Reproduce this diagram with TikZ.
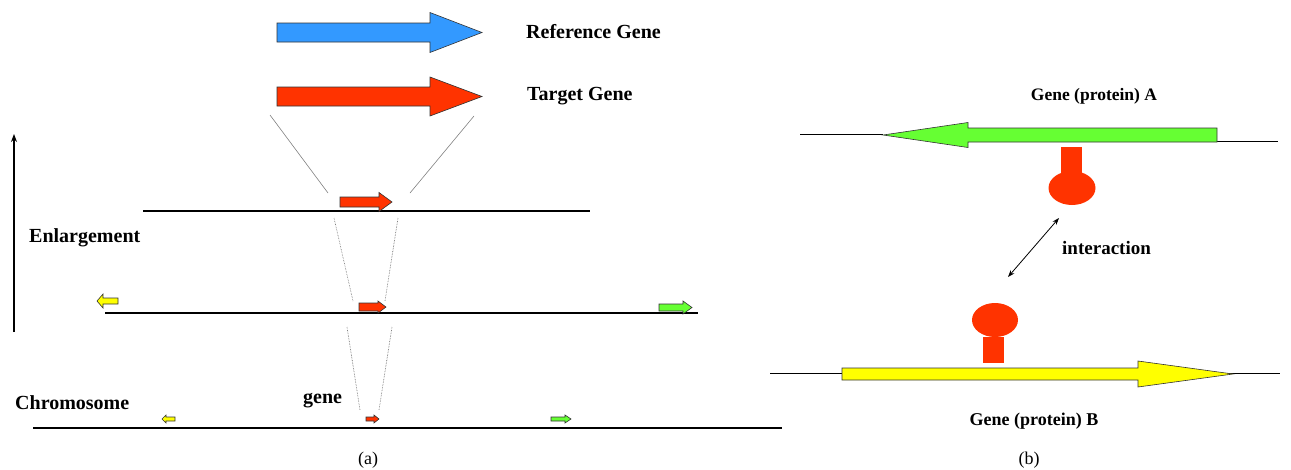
\documentclass[tikz,border=0pt]{standalone}
\usepackage{fontspec}
\setmainfont{Liberation Serif}
\usetikzlibrary{arrows.meta}
\definecolor{refblue}{HTML}{3399FF}
\definecolor{tgtred}{HTML}{FF3300}
\definecolor{gngreen}{HTML}{66FF33}
\definecolor{gnyellow}{HTML}{FFFF00}
% block arrow: colour, start x, head x, tip x, mid y, half body, half head
\newcommand{\genearrow}[7]{%
	\draw [black!80, line width=0.6, fill=#1] (#2,#5-#6) -- (#3,#5-#6) -- (#3,#5-#7) -- (#4,#5) -- (#3,#5+#7) -- (#3,#5+#6) -- (#2,#5+#6) -- cycle;}
\tikzset{
	big/.style={font=\fontsize{20}{24}\selectfont\bfseries, anchor=west, inner sep=0},
	small/.style={font=\fontsize{17.5}{21}\selectfont\bfseries, inner sep=0},
	caption/.style={font=\fontsize{18}{22}\selectfont, inner sep=0},
	chrom/.style={black, line width=1.2},
	zoomline/.style={gray, line width=0.6},
}
\begin{document}
\begin{tikzpicture}[x=1pt,y=-1pt]
	\useasboundingbox (0,0) rectangle (1291,469);
	% (a) reference and target
	\genearrow{refblue}{277}{430}{482}{32.5}{9.5}{20}
	\genearrow{tgtred}{277}{430}{482}{96.5}{9.5}{19.5}
	\node [big] (refgene) at (526,32) {Reference Gene};
	\node [big] (tgtgene) at (527,96) {Target Gene};
	\draw [zoomline] (270,115) -- (328,193);
	\draw [zoomline] (474,116) -- (410,193);
	% chromosome levels
	\draw [chrom] (143,211) -- (590,211);
	\genearrow{tgtred}{340}{379}{392}{202}{5}{9.5}
	\draw [zoomline, black!60, densely dotted] (334,218) -- (353,301);
	\draw [zoomline, black!60, densely dotted] (398,218) -- (385,301);
	\draw [chrom] (105,313) -- (698,313);
	\genearrow{gnyellow}{118}{103}{97}{301}{3}{7}
	\genearrow{tgtred}{359}{378}{386}{307}{4}{6}
	\genearrow{gngreen}{659}{683}{692}{307.5}{3.5}{6.5}
	\draw [zoomline, black!60, densely dotted] (347,327) -- (360,410);
	\draw [zoomline, black!60, densely dotted] (392,327) -- (379,410);
	\draw [chrom] (33,428) -- (782,428);
	\genearrow{gnyellow}{175}{166}{162}{419}{2}{4}
	\genearrow{tgtred}{366}{374}{379}{419}{2}{4}
	\genearrow{gngreen}{551}{565}{571}{419}{2}{4}
	\node [big] (chromo) at (15,403) {Chromosome};
	\node [big] (gene) at (303,401) {gene};
	% enlargement axis
	\draw [arrows=-{Stealth[length=8, width=6]}, line width=2] (14,332) -- (14,134);
	\node [big] (enlarge) at (29,238) {Enlargement};
	\node [caption] (capa) at (368,460) {(a)};
	% (b) interaction
	\draw [black, line width=0.8] (800,134) -- (883,134);
	\draw [black, line width=1.0] (1185,141) -- (1278,141);
	\genearrow{gngreen}{1217}{968}{883}{135}{7}{12.5}
	\fill [tgtred] (1061,147) rectangle (1082,174);
	\fill [tgtred] (1072,188) ellipse [x radius=23.5, y radius=17];
	\node [small] (genea) at (1094,96) {Gene (protein) A};
	\draw [black, line width=1.0] (770,373.5) -- (1280,373.5);
	\genearrow{gnyellow}{842}{1138}{1233}{374}{6}{13}
	\fill [tgtred] (983,337) rectangle (1004,363);
	\fill [tgtred] (995,320) ellipse [x radius=23, y radius=17];
	\node [small, font=\fontsize{18}{22}\selectfont\bfseries] (geneb) at (1034,421) {Gene (protein) B};
	\coordinate (knoba) at (1059,218);
	\coordinate (knobb) at (1008,277);
	\draw [arrows={Stealth[length=7, width=5]}-{Stealth[length=7, width=5]}, line width=0.8] (knoba) -- (knobb);
	\node [small, anchor=west, font=\fontsize{19}{22}\selectfont\bfseries] (inter) at (1062,248) {interaction};
	\node [caption] (capb) at (1029,460) {(b)};
\end{tikzpicture}
\end{document}
